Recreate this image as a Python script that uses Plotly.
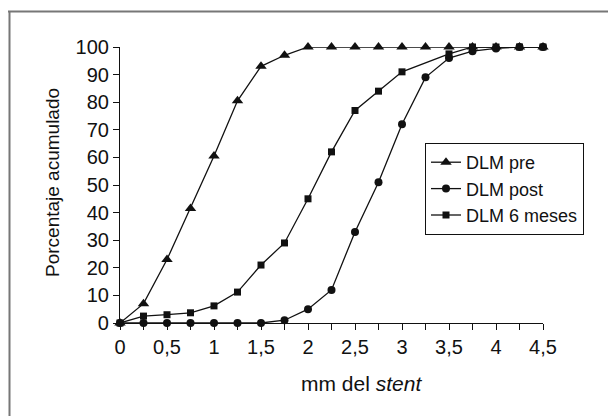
import plotly.graph_objects as go

# ---- data ----
x_mm = [0, 0.25, 0.5, 0.75, 1, 1.25, 1.5, 1.75, 2, 2.25, 2.5, 2.75, 3, 3.25, 3.5, 3.75, 4, 4.25, 4.5]
dlm_pre = [0, 7, 23, 41.5, 60.5, 80.5, 93, 97, 100, 100, 100, 100, 100, 100, 100, 100, 100, 100, 100]
dlm_post = [0, 0, 0, 0, 0, 0, 0, 1, 5, 12, 33, 51, 72, 89, 96, 98.5, 99.5, 100, 100]
dlm_6m = [0, 2.5, 3, 3.7, 6.2, 11.2, 21, 29, 45, 62, 77, 84, 91, None, 97.5, 100, 100, 100, 100]
x_tickvals = x_mm
x_ticktext = ["0", "", "0,5", "", "1", "", "1,5", "", "2", "", "2,5", "", "3", "", "3,5", "", "4", "", "4,5"]
y_tickvals = [0, 10, 20, 30, 40, 50, 60, 70, 80, 90, 100]

FONT = "Liberation Sans, Arial, sans-serif"
FS_TICK = 20
FS_XT = 21
FS_YT = 19
FS_LEG = 18
OFF = 8  # page body margin
W, H = 616 - OFF, 416 - OFF
L, R, T, B = 120 - OFF, 73, 47 - OFF, 93
PW, PH = W - L - R, H - T - B

def px(xs):
    # screen pixel -> paper x
    return (xs - OFF - L) / PW

def py(ys):
    return (H - B - (ys - OFF)) / PH

fig = go.Figure()
series = [
    ("DLM pre", dlm_pre, "triangle-up", 10),
    ("DLM post", dlm_post, "circle", 8),
    ("DLM 6 meses", dlm_6m, "square", 7),
]
for name, ys, sym, sz in series:
    fig.add_trace(go.Scatter(
        x=x_mm, y=ys, name=name, mode="lines+markers",
        connectgaps=True,
        line=dict(color="#111111", width=1.3),
        marker=dict(symbol=sym, size=sz, color="#111111"),
        cliponaxis=False,
    ))

fig.update_layout(
    width=W, height=H,
    margin=dict(l=L, r=R, t=T, b=B),
    paper_bgcolor="white", plot_bgcolor="white",
    font=dict(family=FONT, size=FS_TICK, color="#111111"),
    showlegend=True,
    legend=dict(
        x=px(425), y=py(143), xanchor="left", yanchor="top",
        bordercolor="#111111", borderwidth=1,
        font=dict(family=FONT, size=FS_LEG, color="#111111"),
        bgcolor="white", itemwidth=30, tracegroupgap=0,
    ),
    xaxis=dict(
        range=[0, 4.5], tickmode="array", tickvals=x_tickvals, ticktext=x_ticktext,
        ticks="outside", ticklen=6, tickcolor="#111111", tickwidth=1,
        showline=True, linecolor="#111111", linewidth=1.2,
        showgrid=False, zeroline=False,
        tickfont=dict(family=FONT, size=FS_TICK),
    ),
    yaxis=dict(
        range=[0, 100], tickmode="array", tickvals=y_tickvals,
        ticks="outside", ticklen=6, tickcolor="#111111", tickwidth=1,
        showline=True, linecolor="#111111", linewidth=1.2,
        showgrid=False, zeroline=False,
        tickfont=dict(family=FONT, size=FS_TICK),
    ),
    annotations=[
        dict(text="mm del <i>stent</i>", x=px(361), y=py(383), xref="paper", yref="paper",
             showarrow=False, xanchor="center", yanchor="middle",
             font=dict(family=FONT, size=FS_XT, color="#111111")),
        dict(text="Porcentaje acumulado", x=px(52), y=py(183), xref="paper", yref="paper",
             showarrow=False, xanchor="center", yanchor="middle", textangle=-90,
             font=dict(family=FONT, size=FS_YT, color="#111111")),
    ],
    shapes=[
        dict(type="line", xref="paper", yref="paper", x0=px(8), x1=px(616), y0=py(11.5), y1=py(11.5),
             line=dict(color="#777777", width=2)),
        dict(type="line", xref="paper", yref="paper", x0=px(9.5), x1=px(9.5), y0=py(11.5), y1=py(416),
             line=dict(color="#777777", width=2)),
    ],
)

fig.write_html("out.html")
